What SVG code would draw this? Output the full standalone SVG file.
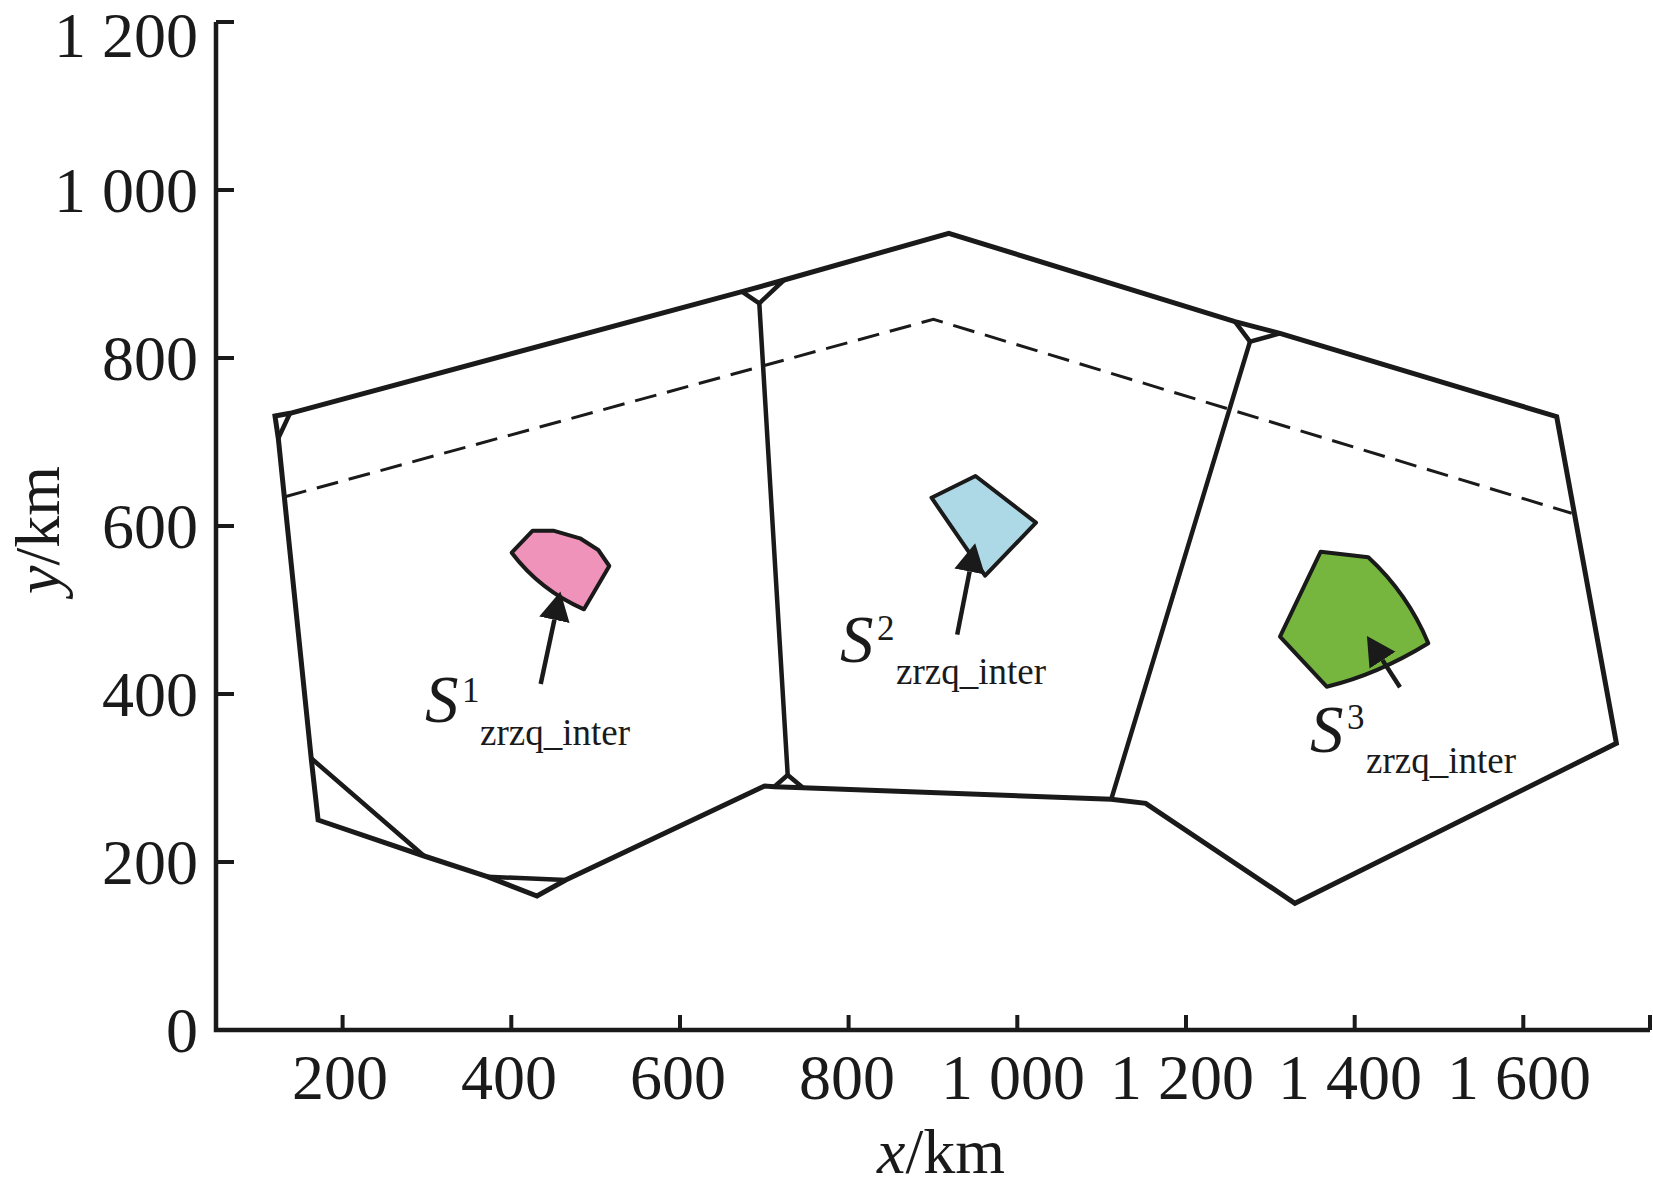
<svg xmlns="http://www.w3.org/2000/svg" width="1653" height="1188" viewBox="0 0 1653 1188">
<style>
.ax{stroke:#1a1a1a;stroke-width:4.5;fill:none;stroke-linecap:butt}
.tk{stroke:#1a1a1a;stroke-width:4;fill:none}
.bd{stroke:#1a1a1a;stroke-width:5;fill:none;stroke-linejoin:miter}
.in{stroke:#1a1a1a;stroke-width:4.5;fill:none;stroke-linejoin:miter}
.dash{stroke:#1a1a1a;stroke-width:3;fill:none;stroke-dasharray:22 11}
.rg{stroke:#1a1a1a;stroke-width:4;stroke-linejoin:round}
.arr{stroke:#1a1a1a;stroke-width:4.5;fill:none}
text{font-family:"Liberation Serif","Times New Roman",serif;fill:#1a1a1a}
.tl{font-size:64px}
.yl{text-anchor:end}
.xl{text-anchor:middle}
.S{font-size:67px;font-style:italic}
.sup{font-size:35px}
.sub{font-size:37px}
</style>
<defs>
<marker id="ah" markerUnits="userSpaceOnUse" markerWidth="30" markerHeight="32" viewBox="0 -15 28 30" refX="0" refY="0" orient="auto">
<path d="M0,-14.5 L27,0 L0,14.5 z" fill="#1a1a1a"/>
</marker>
</defs>
<g id="axes">
<path class="ax" d="M216,22 L216,1030 L1650,1030"/>
<path class="tk" d="M216,22 H234 M216,190 H234 M216,358 H234 M216,526 H234 M216,694 H234 M216,862 H234"/>
<path class="tk" d="M342.6,1015 V1030 M511.3,1015 V1030 M680,1015 V1030 M848.6,1015 V1030 M1017.3,1015 V1030 M1186,1015 V1030 M1354.7,1015 V1030 M1523.3,1015 V1030 M1650,1015 V1030"/>
<g class="tl yl">
<text x="198" y="1052">0</text>
<text x="198" y="884">200</text>
<text x="198" y="716">400</text>
<text x="198" y="548">600</text>
<text x="198" y="380">800</text>
<text x="198" y="212">1 000</text>
<text x="198" y="57">1 200</text>
</g>
<g class="tl xl">
<text x="340" y="1099">200</text>
<text x="509" y="1099">400</text>
<text x="678" y="1099">600</text>
<text x="847" y="1099">800</text>
<text x="1013" y="1099">1 000</text>
<text x="1182" y="1099">1 200</text>
<text x="1350" y="1099">1 400</text>
<text x="1519" y="1099">1 600</text>
</g>
<text class="tl" x="941" y="1173" text-anchor="middle"><tspan font-style="italic">x</tspan>/km</text>
<text class="tl" transform="translate(59,530) rotate(-90)" text-anchor="middle"><tspan font-style="italic">y</tspan>/km</text>
</g>
<g id="boundary">
<path class="bd" d="M275,416 L290,413.3 L742,291.7 L784,280 L948.8,233.3 L1235,321.7 L1280,333.3 L1556.7,416.7 L1616.4,743.3 L1294.9,903.3 L1145.7,803.3 L1111.2,799.3 L803,787.7 L774.3,786.7 L764.7,786 L565.7,880 L537,896 L487.3,876.7 L424.1,856 L318.1,820 L311.2,758.3 L278.3,438.3 Z"/>
<path class="in" d="M290,413.3 L278.3,438.3 M742,291.7 L759.3,303.3 L784,280 M1235,321.7 L1250,341.7 L1280,333.3 M774.3,786.7 L787.7,775 L803,787.7 M311.2,758.3 L424.1,856 M487.3,876.7 L565.7,880"/>
</g>
<g id="cell-lines">
<path class="in" d="M759.3,303.3 L787.7,775 M1250,341.7 L1111.2,799.3"/>
</g>
<g id="dashed-line">
<path class="dash" d="M285,496.7 L933.4,319.3 L1571.7,513.3"/>
</g>
<g id="region-1">
<path class="rg" fill="#F093BB" d="M511.7,552.7 L532.7,530.7 L553.3,530.7 L580,538.3 L598.3,550 L609.3,566 L584,609.3 Q540,590 511.7,552.7 Z"/>
</g>
<g id="region-2">
<path class="rg" fill="#ADD8E6" d="M931.5,497.7 L975.5,476 L1036,522.7 L985.1,575.7 Z"/>
</g>
<g id="region-3">
<path class="rg" fill="#76B63E" d="M1320.7,551.7 L1368.3,557.3 Q1407.7,593.7 1428.3,643.3 Q1376.5,675 1326.7,686.7 L1280,636.7 Z"/>
</g>
<g id="connectors">
<line class="arr" x1="540.7" y1="684" x2="554.4" y2="619.7" marker-end="url(#ah)"/>
<line class="arr" x1="957.2" y1="634.6" x2="969.6" y2="571.5" marker-end="url(#ah)"/>
<line class="arr" x1="1400" y1="687.3" x2="1382.5" y2="660.1" marker-end="url(#ah)"/>
</g>
<g id="label-1">
<text><tspan class="S" x="425" y="722">S</tspan><tspan class="sup" x="462" y="702">1</tspan><tspan class="sub" x="480" y="745">zrzq_inter</tspan></text>
</g>
<g id="label-2">
<text><tspan class="S" x="840" y="662">S</tspan><tspan class="sup" x="877" y="640">2</tspan><tspan class="sub" x="896" y="684">zrzq_inter</tspan></text>
</g>
<g id="label-3">
<text><tspan class="S" x="1310" y="752">S</tspan><tspan class="sup" x="1347" y="729">3</tspan><tspan class="sub" x="1366" y="773">zrzq_inter</tspan></text>
</g>
</svg>
